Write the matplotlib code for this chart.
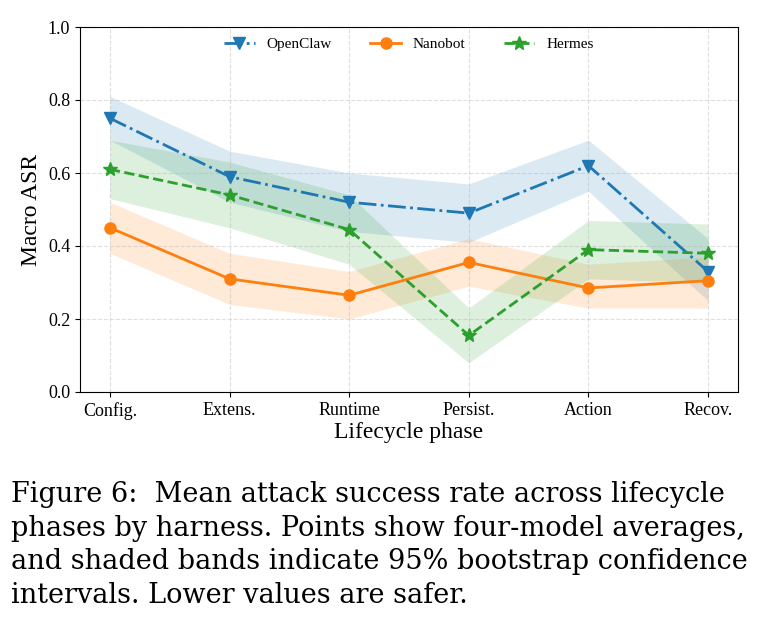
import matplotlib
matplotlib.use("Agg")
import matplotlib.pyplot as plt

phases = ["Config.", "Extens.", "Runtime", "Persist.", "Action", "Recov."]

openclaw = [0.75, 0.59, 0.52, 0.49, 0.62, 0.33]
openclaw_lo = [0.69, 0.52, 0.44, 0.41, 0.55, 0.25]
openclaw_hi = [0.81, 0.66, 0.60, 0.57, 0.69, 0.42]

nanobot = [0.45, 0.31, 0.265, 0.355, 0.285, 0.305]
nanobot_lo = [0.38, 0.24, 0.20, 0.29, 0.23, 0.23]
nanobot_hi = [0.52, 0.38, 0.33, 0.42, 0.35, 0.37]

hermes = [0.61, 0.54, 0.445, 0.155, 0.39, 0.38]
hermes_lo = [0.53, 0.45, 0.35, 0.08, 0.31, 0.30]
hermes_hi = [0.69, 0.63, 0.54, 0.23, 0.47, 0.46]

caption = ("Figure 6:  Mean attack success rate across lifecycle\n"
           "phases by harness. Points show four-model averages,\n"
           "and shaded bands indicate 95% bootstrap confidence\n"
           "intervals. Lower values are safer.")

plt.rcParams['font.family'] = ['Liberation Serif', 'DejaVu Serif']
fig = plt.figure(figsize=(7.64, 6.37), dpi=100)
ax = fig.add_axes([80 / 764, 1 - 392 / 637, 658 / 764, 365 / 637])

x = list(range(len(phases)))
series = [
    ("OpenClaw", openclaw, openclaw_lo, openclaw_hi, "#1f77b4", "-.", "v", 9),
    ("Nanobot", nanobot, nanobot_lo, nanobot_hi, "#ff7f0e", "-", "o", 8),
    ("Hermes", hermes, hermes_lo, hermes_hi, "#2ca02c", "--", "*", 10),
]
for name, vals, lo, hi, c, ls, m, ms in series:
    ax.fill_between(x, lo, hi, color=c, alpha=0.16, linewidth=0)
    ax.plot(x, vals, color=c, linestyle=ls, marker=m, markersize=ms,
            linewidth=2, label=name)

ax.set_xlim(-0.25, 5.25)
ax.set_ylim(0, 1.0)
ax.set_xticks(x)
ax.set_xticklabels(phases, fontsize=13)
ax.tick_params(axis='y', labelsize=13)
ax.set_yticks([0, 0.2, 0.4, 0.6, 0.8, 1.0])
ax.grid(True, linestyle='--', alpha=0.4)
ax.set_xlabel("Lifecycle phase", fontsize=17, labelpad=2)
ax.set_ylabel("Macro ASR", fontsize=17)
ax.legend(loc='upper center', ncol=3, frameon=False, fontsize=11,
          borderaxespad=0.3, columnspacing=2.5)

fig.text(0.015, 0.245, caption, fontsize=19.5, va='top', ha='left',
         family=['DejaVu Serif'], linespacing=1.32)

fig.savefig("out.png", dpi=100)
